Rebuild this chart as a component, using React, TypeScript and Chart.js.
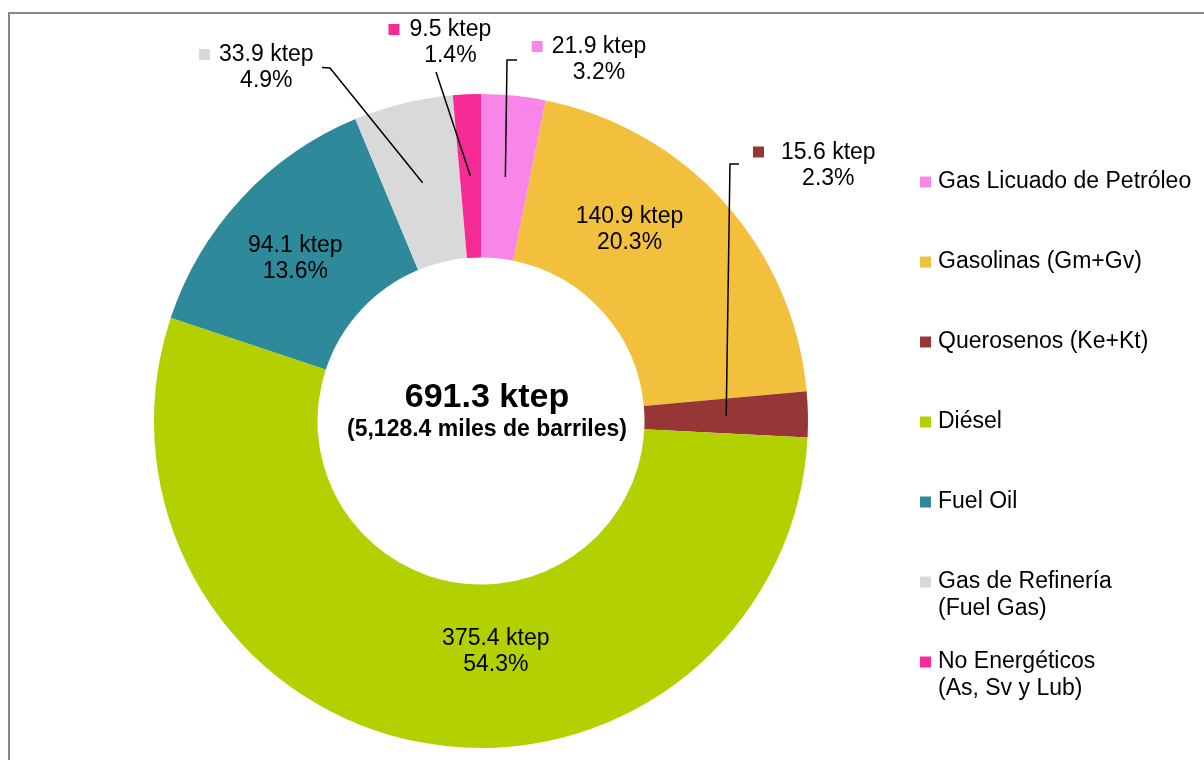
import React, { useEffect, useRef } from "react";
import { Chart, registerables } from "chart.js";

Chart.register(...registerables);

// ---- Data ----
const categories = [
  "Gas Licuado de Petróleo",
  "Gasolinas (Gm+Gv)",
  "Querosenos (Ke+Kt)",
  "Diésel",
  "Fuel Oil",
  "Gas de Refinería (Fuel Gas)",
  "No Energéticos (As, Sv y Lub)",
];
const legendLines = [
  ["Gas Licuado de Petróleo"],
  ["Gasolinas (Gm+Gv)"],
  ["Querosenos (Ke+Kt)"],
  ["Diésel"],
  ["Fuel Oil"],
  ["Gas de Refinería", "(Fuel Gas)"],
  ["No Energéticos", "(As, Sv y Lub)"],
];
const valuesKtep = [21.9, 140.9, 15.6, 375.4, 94.1, 33.9, 9.5];
const sharePct = [3.2, 20.3, 2.3, 54.3, 13.6, 4.9, 1.4];
const totalLine1 = "691.3 ktep";
const totalLine2 = "(5,128.4 miles de barriles)";
const sliceColors = ["#F886E8", "#F2C03C", "#963636", "#B3D000", "#2E8A9B", "#D9D9D9", "#F62B96"];

// ---- Annotation placement (relative to doughnut centre) ----
const labelPlacement = [
  { dx: 118, dy: -361, key: true, keyGap: 9 },
  { dx: 148.5, dy: -191, key: false, keyGap: 0 },
  { dx: 347.3, dy: -255.5, key: true, keyGap: 17 },
  { dx: 14.8, dy: 231, key: false, keyGap: 0 },
  { dx: -185.7, dy: -162, key: false, keyGap: 0 },
  { dx: -214.7, dy: -353, key: true, keyGap: 9 },
  { dx: -30.6, dy: -378, key: true, keyGap: 10 },
];
const leaderPaths: { index: number; pts: number[][] }[] = [
  { index: 0, pts: [[36, -361], [26, -361]] },
  { index: 2, pts: [[258, -257], [249, -257]] },
  { index: 5, pts: [[-159, -353.5], [-151, -353]] },
  { index: 6, pts: [[-45, -349]] },
];

const FONT = '"Liberation Sans", Arial, Helvetica, sans-serif';

const annotations = {
  id: "annotations",
  beforeDraw(chart: any) {
    const ctx = chart.ctx;
    ctx.save();
    ctx.fillStyle = "#ffffff";
    ctx.fillRect(0, 0, chart.width, chart.height);
    ctx.strokeStyle = "#878787";
    ctx.lineWidth = 2;
    ctx.strokeRect(9, 13, chart.width + 20, chart.height + 20);
    ctx.restore();
  },
  afterDraw(chart: any) {
    const ctx = chart.ctx;
    const arcs = chart.getDatasetMeta(0).data;
    if (!arcs.length) return;
    const cx = arcs[0].x;
    const cy = arcs[0].y;
    ctx.save();

    // leader lines
    ctx.strokeStyle = "#000000";
    ctx.lineWidth = 1.5;
    leaderPaths.forEach((lp) => {
      const end = arcs[lp.index].tooltipPosition(false);
      ctx.beginPath();
      lp.pts.forEach((p, k) => {
        if (k === 0) ctx.moveTo(cx + p[0], cy + p[1]);
        else ctx.lineTo(cx + p[0], cy + p[1]);
      });
      ctx.lineTo(end.x, end.y);
      ctx.stroke();
    });

    // data labels
    ctx.font = `23px ${FONT}`;
    ctx.fillStyle = "#000000";
    ctx.textAlign = "center";
    ctx.textBaseline = "middle";
    const lh = 26;
    valuesKtep.forEach((v, i) => {
      const pl = labelPlacement[i];
      const x = cx + pl.dx;
      const y = cy + pl.dy;
      const l1 = `${v.toFixed(1)} ktep`;
      const l2 = `${sharePct[i].toFixed(1)}%`;
      ctx.fillStyle = "#000000";
      ctx.fillText(l1, x, y - lh / 2);
      ctx.fillText(l2, x, y + lh / 2);
      if (pl.key) {
        const w = ctx.measureText(l1).width;
        const left = x - w / 2;
        ctx.fillStyle = sliceColors[i];
        ctx.fillRect(left - pl.keyGap - 11, y - lh / 2 - 6, 11, 11);
      }
    });

    // centre text
    ctx.fillStyle = "#000000";
    ctx.font = `bold 34px ${FONT}`;
    ctx.fillText(totalLine1, cx + 6, cy - 23.5);
    ctx.font = `bold 23px ${FONT}`;
    ctx.fillText(totalLine2, cx + 6, cy + 9);

    // legend
    ctx.textAlign = "left";
    ctx.font = `23px ${FONT}`;
    legendLines.forEach((lines, i) => {
      const y = 182 + i * 80;
      ctx.fillStyle = sliceColors[i];
      ctx.fillRect(920, y - 5.5, 11, 11);
      ctx.fillStyle = "#000000";
      lines.forEach((t, k) => ctx.fillText(t, 938, y + k * 27));
    });
    ctx.restore();
  },
};

export default function App() {
  const ref = useRef<HTMLCanvasElement>(null);
  useEffect(() => {
    if (!ref.current) return;
    const chart = new Chart(ref.current, {
      type: "doughnut",
      data: {
        labels: categories,
        datasets: [
          {
            data: valuesKtep,
            backgroundColor: sliceColors,
            borderWidth: 0,
          },
        ],
      },
      options: {
        responsive: false,
        maintainAspectRatio: false,
        animation: false,
        cutout: "50%",
        layout: { padding: { left: 154, top: 94, right: 396, bottom: 12 } },
        plugins: {
          legend: { display: false },
          tooltip: { enabled: false },
        },
      },
      plugins: [annotations],
    });
    return () => chart.destroy();
  }, []);
  return (
    <div style={{ position: "absolute", left: 0, top: 0, width: 1204, height: 760 }}>
      <canvas ref={ref} width={1204} height={760} style={{ display: "block" }} />
    </div>
  );
}
